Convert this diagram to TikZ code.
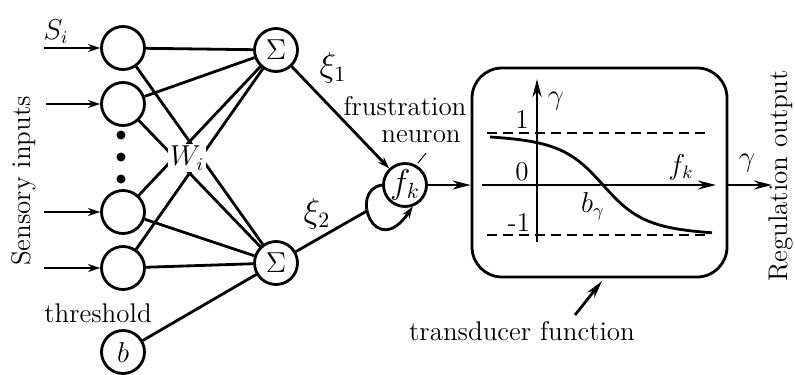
\documentclass[tikz,border=0pt]{standalone}
\usetikzlibrary{arrows.meta}
\begin{document}
\begin{tikzpicture}[x=0.5pt,y=-0.5pt,
  every node/.style={font=\fontsize{13.5}{16}\selectfont},
  neuron/.style={circle,draw,line width=1.4pt,minimum size=21.5pt,inner sep=0pt},
  conn/.style={line width=1.4pt},
  arr/.style={line width=1.4pt,-{Stealth[length=6pt,width=4pt]}},
  bigarr/.style={line width=1.4pt,-{Stealth[length=9pt,width=4.5pt]}},
  bigmath/.style={font=\fontsize{16}{18}\selectfont},
  lbl/.style={inner sep=1pt}]
\useasboundingbox (0,0) rectangle (795,374);
% input neurons
\node[neuron] (c1) at (123,48) {};
\node[neuron] (c2) at (123,104) {};
\node[neuron] (c3) at (123,212) {};
\node[neuron] (c4) at (123,268) {};
\node[neuron] (b) at (123,352) {$b$};
\node[neuron] (s1) at (276,50) {$\Sigma$};
\node[neuron] (s2) at (276,263) {$\Sigma$};
\node[neuron,bigmath] (fk) at (405,185) {$f_k$};
% dots
\foreach \yy/\nm in {135/d1,157/d2,179/d3}
  \node[circle,fill,inner sep=0pt,minimum size=4.5pt] (\nm) at (121,\yy) {};
% input arrows
\coordinate (i1) at (44,48);
\coordinate (i2) at (46,104);
\coordinate (i3) at (44,212);
\coordinate (i4) at (44,268);
\draw[arr] (i1) -- (c1);
\draw[arr] (i2) -- (c2);
\draw[arr] (i3) -- (c3);
\draw[arr] (i4) -- (c4);
\node (si) at (56,32) {$S_i$};
% connections
\foreach \c in {c1,c2,c3,c4}{
  \draw[conn] (\c) -- (s1);
  \draw[conn] (\c) -- (s2);
}
\draw[conn] (b) -- (s2);
\node[fill=white,inner sep=1pt] (wi) at (187,158) {$W_i$};
% labels
\node[rotate=90] (sens) at (24,181) {Sensory inputs};
\node (thr) at (98,313) {threshold};
% to frustration neuron
\draw[arr] (s1) -- (fk);
\node[bigmath] (xi1) at (333,68) {$\xi_{\scriptstyle 1}$};
\node[bigmath] (xi2) at (317,214) {$\xi_{\scriptstyle 2}$};
\node[lbl] (frus) at (405,106) {frustration};
\node[lbl] (neur) at (421,137) {neuron};
\coordinate (la) at (418,163);
\coordinate (lb) at (426,153);
\draw[line width=0.5pt] (la) -- (lb);
% self loop
\draw[arr] (fk.west) .. controls (348,190) and (375,262) .. coordinate[pos=0.4] (lp) (fk.-70);
\draw[conn] (s2) -- (lp);
% transducer box
\node[draw,line width=1.4pt,rounded corners=15pt,minimum width=127.5pt,minimum height=104.5pt,inner sep=0pt] (box) at (599.5,172.5) {};
\draw[bigarr] (fk.east) -- (box.west |- fk.east);
% axes
\coordinate (yb) at (537,242);
\coordinate (yt) at (537,79);
\coordinate (xl) at (482,185);
\coordinate (xr) at (716,185);
\draw[bigarr] (yb) -- (yt);
\draw[bigarr] (xl) -- (xr);
\coordinate (d1l) at (487,133);
\coordinate (d1r) at (706,133);
\coordinate (d2l) at (487,235);
\coordinate (d2r) at (706,235);
\draw[line width=1.4pt,dash pattern=on 5pt off 3pt] (d1l) -- (d1r);
\draw[line width=1.4pt,dash pattern=on 5pt off 3pt] (d2l) -- (d2r);
\node (g1) at (556,101) {$\gamma$};
\node (one) at (522,120) {1};
\node (zero) at (522,172) {0};
\node (mone) at (519,223) {-1};
\node (fkl) at (681,167) {$f_k$};
\node (bg) at (593,206) {$b_\gamma$};
% sigmoid
\draw[line width=1.4pt] plot[domain=490:712,samples=120,smooth] (\x,{185+52*(\x-603)/sqrt((\x-603)*(\x-603)+2209)});
% output
\coordinate (out) at (772,185);
\draw[bigarr] (box.east |- out) -- (out);
\node (g2) at (747,163) {$\gamma$};
\node[rotate=90] (reg) at (781,176) {Regulation output};
% transducer pointer
\node (tf) at (522,331) {transducer function};
\coordinate (pa) at (575,315);
\coordinate (pb) at (602,281);
\draw[bigarr] (pa) -- (pb);
\end{tikzpicture}
\end{document}
